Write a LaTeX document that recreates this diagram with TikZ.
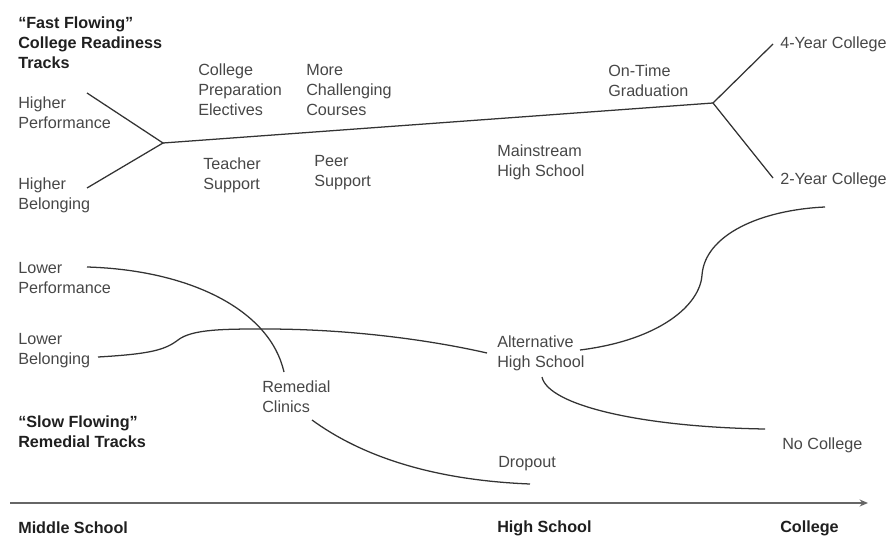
\documentclass[tikz,border=0pt]{standalone}
\usepackage{fontspec}
\setmainfont{Liberation Sans}
\usetikzlibrary{arrows.meta}
\tikzset{
  track/.style = {line width=0.9pt, draw=black!80},
  lbl/.style   = {anchor=west, align=left, inner sep=0pt, text=black!72,
                  font=\fontsize{11.5}{14.2}\selectfont},
  head/.style  = {lbl, text=black!88, font=\fontsize{11.5}{14.2}\selectfont\bfseries},
  timeline/.style = {-{Stealth[length=6pt,width=5pt]}, line width=1.2pt, draw=black!60},
}

\begin{document}
\begin{tikzpicture}[x=0.025cm, y=-0.025cm]
  \useasboundingbox (0,0) rectangle (893,538);

  % labels
  \node[head] (fast)   at (18,43)  {``Fast Flowing''\\College Readiness\\Tracks};
  \node[lbl]  (hiperf) at (18,113) {Higher\\Performance};
  \node[lbl]  (hibel)  at (18,195) {Higher\\Belonging};
  \node[lbl]  (prep)   at (198,90) {College\\Preparation\\Electives};
  \node[lbl]  (chall)  at (306,90) {More\\Challenging\\Courses};
  \node[lbl]  (teach)  at (203,175) {Teacher\\Support};
  \node[lbl]  (peer)   at (314,173) {Peer\\Support};
  \node[lbl]  (mainhs) at (497,162) {Mainstream\\High School};
  \node[lbl]  (ontime) at (608,81)  {On-Time\\Graduation};
  \node[lbl]  (four)   at (780,44)  {4-Year College};
  \node[lbl]  (two)    at (780,180) {2-Year College};
  \node[lbl]  (loperf) at (18,278)  {Lower\\Performance};
  \node[lbl]  (lobel)  at (18,351)  {Lower\\Belonging};
  \node[lbl]  (alths)  at (497,353) {Alternative\\High School};
  \node[lbl]  (remed)  at (262,397) {Remedial\\Clinics};
  \node[head] (slow)   at (18,432)  {``Slow Flowing''\\Remedial Tracks};
  \node[lbl]  (nocol)  at (782,445) {No College};
  \node[lbl]  (drop)   at (498,464) {Dropout};
  \node[head] (ms)     at (18,528)  {Middle School};
  \node[head] (hs)     at (497,528) {High School};
  \node[head] (col)    at (780,528) {College};

  % branch points and free ends
  \coordinate (jl) at (163,143);
  \coordinate (jr) at (713,103);
  \coordinate (hpEnd) at (87,93);
  \coordinate (hbEnd) at (87,188);
  \coordinate (fourEnd) at (773,44);
  \coordinate (twoEnd) at (773,178);
  \coordinate (lpEnd) at (87,267);
  \coordinate (rcTop) at (284,372);
  \coordinate (lbEnd) at (98,357);
  \coordinate (ahLeft) at (487,353);
  \coordinate (ahRight) at (580,350);
  \coordinate (ahBot) at (542,377);
  \coordinate (twoLow) at (825,207);
  \coordinate (ncEnd) at (765,429);
  \coordinate (rcBot) at (312,420);
  \coordinate (drEnd) at (530,484);
  \coordinate (tStart) at (10,503);
  \coordinate (tEnd) at (868,503);

  % fast tracks
  \draw[track] (hpEnd) -- (jl) -- (hbEnd);
  \draw[track] (jl) -- (jr);
  \draw[track] (fourEnd) -- (jr) -- (twoEnd);

  % slow tracks
  \draw[track] (lpEnd) .. controls (190,270) and (270,310) .. (rcTop);
  \draw[track] (lbEnd) .. controls (150,354) and (165,350) .. (178,340)
    .. controls (192,329) and (225,329) .. (265,329)
    .. controls (350,329) and (430,340) .. (ahLeft);
  \draw[track] (ahRight) .. controls (660,340) and (700,305) .. (702,275)
    .. controls (705,235) and (760,210) .. (twoLow);
  \draw[track] (ahBot) .. controls (548,405) and (640,427) .. (ncEnd);
  \draw[track] (rcBot) .. controls (360,455) and (430,480) .. (drEnd);

  % time line
  \draw[timeline] (tStart) -- (tEnd);
\end{tikzpicture}
\end{document}
